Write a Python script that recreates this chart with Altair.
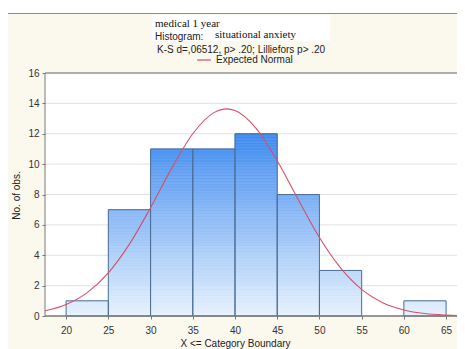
import altair as alt
import pandas as pd

# ---- data ----
bin_start = [20, 25, 30, 35, 40, 45, 50, 55, 60]
bin_end = [25, 30, 35, 40, 45, 50, 55, 60, 65]
counts = [1, 7, 11, 11, 12, 8, 3, 0, 1]

normal_x = [17.5, 20, 22.5, 25, 27.5, 30, 32.5, 35, 37.5, 39, 40, 42.5, 45,
            47.5, 50, 52.5, 55, 57.5, 60, 62.5, 65, 67.5]
normal_y = [0.34, 0.76, 1.54, 2.84, 4.73, 7.13, 9.72, 12.0, 13.39, 13.64, 13.53,
            12.36, 10.22, 7.65, 5.17, 3.17, 1.75, 0.88, 0.40, 0.16, 0.06, 0.02]

x_ticks = [20, 25, 30, 35, 40, 45, 50, 55, 60, 65]
y_ticks = [0, 2, 4, 6, 8, 10, 12, 14, 16]

title1 = "medical 1 year"
title2a = "Histogram:"
title2b = "situational anxiety"
title3 = "K-S d=,06512, p> .20; Lilliefors p> .20"
legend_label = "Expected Normal"
x_title = "X <= Category Boundary"
y_title = "No. of obs."

# ---- tables ----
bars = pd.DataFrame({"x0": bin_start, "x1": bin_end, "n": counts})
bars_nz = bars[bars["n"] > 0]

step = 0.1
seg_rows = []
for a, b, n in zip(bin_start, bin_end, counts):
    k = 0
    while (k + 1) * step <= n + 1e-9:
        seg_rows.append({"x0": a, "x1": b, "y0": k * step, "y1": (k + 1) * step,
                         "mid": (k + 0.5) * step})
        k += 1
segs = pd.DataFrame(seg_rows)
curve = pd.DataFrame({"x": normal_x, "y": normal_y})
grid = pd.DataFrame({"y": y_ticks})

W, H = 412, 243
xdom = [17.5, 17.5 + W / 8.444]
xs = alt.Scale(domain=xdom, nice=False, zero=False)
ys = alt.Scale(domain=[0, 16], nice=False)

SANS = "Liberation Sans"
SERIF = "Liberation Serif"

xa = alt.Axis(values=x_ticks, title=x_title, grid=False, domain=False, tickSize=3,
              tickColor="#777", labelFont=SANS, labelFontSize=10, labelColor="#333",
              titleFont=SANS, titleFontSize=10, titleFontWeight="normal", titleColor="#222",
              labelPadding=6, titleY=22, titleX=190, zindex=2)
ya = alt.Axis(values=y_ticks, title=y_title, grid=False, domain=False, tickSize=3,
              tickColor="#777", labelFont=SANS, labelFontSize=10, labelColor="#333",
              titleFont=SANS, titleFontSize=10, titleFontWeight="normal", titleColor="#222",
              labelPadding=3, titleX=-24, titleY=122, zindex=2)

one = pd.DataFrame({"a": [0]})

frame = alt.Chart(one).mark_rect(fill="#fbf8ee", stroke="#8c8c8c", strokeWidth=1, clip=False).encode(
    x=alt.value(-37.5), x2=alt.value(500), y=alt.value(-59.5), y2=alt.value(320))
white = alt.Chart(one).mark_rect(fill="white", clip=False).encode(
    x=alt.value(0), x2=alt.value(430), y=alt.value(0), y2=alt.value(H))
titlebox = alt.Chart(one).mark_rect(fill="white", clip=False).encode(
    x=alt.value(107), x2=alt.value(285), y=alt.value(-58), y2=alt.value(-32))

gridlines = alt.Chart(grid).mark_rule(color="#e2e2e2", strokeWidth=1, clip=False).encode(
    y=alt.Y("y:Q", scale=ys, axis=ya), x=alt.value(0), x2=alt.value(430))

seg_layer = alt.Chart(segs).mark_rect(strokeWidth=0.6).encode(
    x=alt.X("x0:Q", scale=xs, axis=xa), x2="x1:Q",
    y=alt.Y("y0:Q", scale=ys, axis=ya), y2="y1:Q",
    color=alt.Color("mid:Q", scale=alt.Scale(domain=[0, 12], range=["#e8f2fd", "#3a8bef"]), legend=None),
    stroke=alt.Stroke("mid:Q", scale=alt.Scale(domain=[0, 12], range=["#e8f2fd", "#3a8bef"]), legend=None),
)

outline = alt.Chart(bars_nz).mark_rect(fillOpacity=0, stroke="#4d6f97", strokeWidth=1).encode(
    x=alt.X("x0:Q", scale=xs, axis=xa), x2="x1:Q",
    y=alt.Y("n:Q", scale=ys, axis=ya), y2=alt.datum(0),
)

line = alt.Chart(curve).mark_line(color="#d4506a", strokeWidth=1.1, interpolate="monotone", clip=True).encode(
    x=alt.X("x:Q", scale=xs, axis=xa),
    y=alt.Y("y:Q", scale=ys, axis=ya),
)

axes_lines = alt.Chart(one).mark_rule(color="#7a7a7a", strokeWidth=1.5, clip=False).encode(
    x=alt.value(0), x2=alt.value(430), y=alt.value(H), y2=alt.value(H))
top_line = alt.Chart(one).mark_rule(color="#6e6e6e", strokeWidth=1, clip=False).encode(
    x=alt.value(0), x2=alt.value(430), y=alt.value(0), y2=alt.value(0))
left_line = alt.Chart(one).mark_rule(color="#7a7a7a", strokeWidth=1, clip=False).encode(
    x=alt.value(0), x2=alt.value(0), y=alt.value(0), y2=alt.value(H))

t1 = alt.Chart(one).mark_text(text=title1, font=SERIF, fontSize=11, align="left", color="#111", clip=False).encode(
    x=alt.value(110), y=alt.value(-49))
t2a = alt.Chart(one).mark_text(text=title2a, font=SANS, fontSize=10, align="left", color="#222", clip=False).encode(
    x=alt.value(110), y=alt.value(-36))
t2b = alt.Chart(one).mark_text(text=title2b, font=SERIF, fontSize=11, align="left", color="#111", clip=False).encode(
    x=alt.value(170), y=alt.value(-38))
t3 = alt.Chart(one).mark_text(text=title3, font=SANS, fontSize=10, align="left", color="#222", clip=False).encode(
    x=alt.value(112), y=alt.value(-23))
leg_line = alt.Chart(one).mark_rule(color="#d4506a", strokeWidth=1.2, clip=False).encode(
    x=alt.value(152), x2=alt.value(166), y=alt.value(-13), y2=alt.value(-13))
leg_text = alt.Chart(one).mark_text(text=legend_label, font=SANS, fontSize=10, align="left", color="#222", clip=False).encode(
    x=alt.value(171), y=alt.value(-13))

chart = alt.layer(
    frame, white, titlebox, gridlines, seg_layer, outline, line,
    axes_lines, top_line, left_line, t1, t2a, t2b, t3, leg_line, leg_text
).properties(
    width=W, height=H,
    padding={"left": 37, "top": 65, "right": 0, "bottom": 33},
    autosize=alt.AutoSizeParams(type="none"),
    background="white",
).configure_view(stroke=None, fill=None)

chart.save("out.html", embed_options={"renderer": "svg", "actions": False})
